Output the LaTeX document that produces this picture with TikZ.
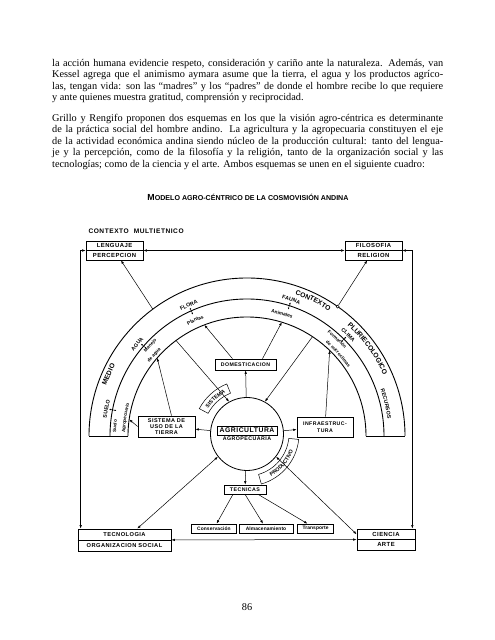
\documentclass[tikz,border=0pt]{standalone}
\usepackage{fontspec}
\setmainfont{Liberation Serif}
\newfontfamily\labfont[LetterSpace=8]{Liberation Sans}
\newfontfamily\lowfont[LetterSpace=2]{Liberation Sans}
\newfontfamily\titfont{Liberation Sans}
\usetikzlibrary{positioning, calc, decorations.text, arrows.meta}

\newcommand{\bodyfont}{\fontsize{10.3}{11}\selectfont}
\newcommand{\biglab}{\labfont\bfseries\fontsize{6.8}{7.5}\selectfont}
\newcommand{\smlab}{\labfont\bfseries\fontsize{5.3}{6.2}\selectfont}
\newcommand{\lowlab}{\lowfont\bfseries\fontsize{4.9}{5.5}\selectfont}
\newcommand{\twolab}{\lowfont\bfseries\fontsize{4.6}{5}\selectfont}

\begin{document}
\begin{tikzpicture}[x=1pt, y=1pt,
                    every edge/.style = {draw, line width=0.5pt, arrows={-Latex[length=3.5pt, width=2.4pt]}},
                    conn/.style = {line width=0.5pt},
                    twoway/.style = {arrows={Latex[length=3.5pt, width=2.4pt]-Latex[length=3.5pt, width=2.4pt]}},
                    tinytip/.style = {line width=0.45pt, arrows={Latex[length=1.8pt, width=1.6pt]-Latex[length=1.8pt, width=1.6pt]}},
                    band/.style = {line width=0.9pt},
                    box/.style = {draw, line width=0.6pt, inner sep=0.5pt, align=center},
                    dbox/.style = {draw, line width=0.7pt, inner sep=0.5pt, align=center},
                    tag/.style = {draw, line width=0.5pt},
                    arclab/.style = {decorate, decoration={text along path, text align=center, text={#1}}},
                    arcleft/.style = {decorate, decoration={text along path, text align=left, text={#1}}},
                    textline/.style = {anchor=base west, font=\bodyfont, inner sep=0pt}]
    \fill[white] (0,0) rectangle (495,640);
    \useasboundingbox (0,0) rectangle (495,640);

    % texto de la pagina
    \node[textline] (l1) at (52,573.5) {\makebox[391pt][s]{la acción humana evidencie respeto, consideración y cariño ante la naturaleza. Además, van}};
    \node[textline] (l2) at (52,562) {\makebox[391pt][s]{Kessel agrega que el animismo aymara asume que la tierra, el agua y los productos agríco-}};
    \node[textline] (l3) at (52,550.5) {\makebox[391pt][s]{las, tengan vida: son las “madres” y los “padres” de donde el hombre recibe lo que requiere}};
    \node[textline] (l4) at (52,539) {y ante quienes muestra gratitud, comprensión y reciprocidad.};
    \node[textline] (l5) at (52,518.5) {\makebox[391pt][s]{Grillo y Rengifo proponen dos esquemas en los que la visión agro-céntrica es determinante}};
    \node[textline] (l6) at (52,507) {\makebox[391pt][s]{de la práctica social del hombre andino. La agricultura y la agropecuaria constituyen el eje}};
    \node[textline] (l7) at (52,495.5) {\makebox[391pt][s]{de la actividad económica andina siendo núcleo de la producción cultural: tanto del lengua-}};
    \node[textline] (l8) at (52,484) {\makebox[391pt][s]{je y la percepción, como de la filosofía y la religión, tanto de la organización social y las}};
    \node[textline] (l9) at (52,472.5) {tecnologías; como de la ciencia y el arte. Ambos esquemas se unen en el siguiente cuadro:};

    \node[font=\titfont\bfseries\fontsize{7.1}{8}\selectfont] (titulo) at (248,443)
        {{\fontsize{8.8}{9}\selectfont M}ODELO AGRO-CÉNTRICO DE LA COSMOVISIÓN ANDINA};
    \node[font=\bodyfont] (pag) at (247,33) {86};

    % cuadro
    \node[font=\labfont\bfseries\fontsize{6.6}{7}\selectfont, anchor=west] (multi) at (85,409) {CONTEXTO\hspace{5pt}MULTIETNICO};

    \node[dbox, minimum width=57pt, minimum height=19pt, font=\labfont\bfseries\fontsize{5.9}{9.5}\selectfont] (leng) at (114.5,389.5) {LENGUAJE\\PERCEPCION};
    \node[dbox, minimum width=57pt, minimum height=19pt, font=\labfont\bfseries\fontsize{5.9}{9.5}\selectfont] (filo) at (373.5,389.5) {FILOSOFIA\\RELIGION};
    \node[dbox, minimum width=93pt, minimum height=22pt, font=\labfont\bfseries\fontsize{5.7}{11}\selectfont] (tecno) at (124.5,100) {TECNOLOGIA\\ORGANIZACION SOCIAL};
    \node[dbox, minimum width=58pt, minimum height=21pt, font=\labfont\bfseries\fontsize{5.9}{10.5}\selectfont] (cien) at (386,100.5) {CIENCIA\\ARTE};
    \draw[line width=0.6pt] (leng.west) -- (leng.east);
    \draw[line width=0.6pt] (filo.west) -- (filo.east);
    \draw[line width=0.6pt] (tecno.west) -- (tecno.east);
    \draw[line width=0.6pt] (cien.west) -- (cien.east);

    \coordinate (c) at (247,204);
    \draw[band] (c) ++(180:158) arc (180:0:158);
    \draw[band] (c) ++(180:137) arc (180:0:137);
    \draw[band] (c) ++(180:119) arc (180:0:119);
    \draw[band] ($(c)+(-158,0)$) -- ($(c)+(-119,0)$);
    \draw[band] ($(c)+(119,0)$) -- ($(c)+(158,0)$);

    \path[arclab={|\biglab|MEDIO}] ($(c)+(166:149.5)$) arc (166:146:149.5);
    \path[arclab={|\biglab|CONTEXTO}] ($(c)+(78:149.5)$) arc (78:50:149.5);
    \path[arclab={|\biglab|PLURIECOLOGICO}] ($(c)+(56:149.5)$) arc (56:16:149.5);
    \path[arclab={|\smlab|SUELO}] ($(c)+(180:141.5)$) arc (180:158:141.5);
    \path[arclab={|\smlab|AGUA}] ($(c)+(151:141.5)$) arc (151:129:141.5);
    \path[arclab={|\smlab|FLORA}] ($(c)+(125:141.5)$) arc (125:103:141.5);
    \path[arclab={|\smlab|FAUNA}] ($(c)+(83:141.5)$) arc (83:61:141.5);
    \path[arclab={|\smlab|CLIMA}] ($(c)+(56:141.5)$) arc (56:34:141.5);
    \path[arclab={|\smlab|RECURSOS}] ($(c)+(28:141.5)$) arc (28:-2:141.5);

    \path[arclab={|\lowlab|Plantas}] ($(c)+(127:125.5)$) arc (127:101:125.5);
    \path[arclab={|\lowlab|Animales}] ($(c)+(88:125.5)$) arc (88:60:125.5);
    \path[arclab={|\twolab|Manejo}] ($(c)+(147:131)$) arc (147:127:131);
    \path[arclab={|\twolab|de agua}] ($(c)+(151:122)$) arc (151:127:122);
    \path[arcleft={|\twolab|Suelo}] ($(c)+(178.5:131)$) arc (178.5:150:131);
    \path[arcleft={|\twolab|Agropecuario}] ($(c)+(178.5:122)$) arc (178.5:140:122);
    \path[arclab={|\twolab|Formación}] ($(c)+(61:131)$) arc (61:33:131);
    \path[arclab={|\twolab|de microclimas}] ($(c)+(59:122)$) arc (59:25:122);

    \foreach \a in {169,139,114,72,45} {
        \draw[tinytip] ($(c)+(\a:133)$) -- ($(c)+(\a:140.5)$);
    }

    % nucleo
    \node[circle, draw, line width=0.8pt, minimum size=73pt, inner sep=0pt] (nucleo) at (247,206) {};
    \node[draw, line width=0.8pt, inner sep=1pt, minimum width=60pt, minimum height=9pt,
          font=\labfont\bfseries\fontsize{6.8}{7.5}\selectfont] (agri) at (247,209.5) {AGRICULTURA};
    \node[inner sep=0.5pt, font=\smlab] (agro) [below=0.6pt of agri] {AGROPECUARIA};

    \draw[tag] ($(nucleo)+(112:44)$) arc (112:152:44) -- ($(nucleo)+(152:54)$) arc (152:112:54) -- cycle;
    \path[arclab={|\smlab|SISTEMA}] ($(nucleo)+(152:46.5)$) arc (152:112:46.5);
    \draw[tag] ($(nucleo)+(-74:42)$) arc (-74:-6:42) -- ($(nucleo)+(-6:52)$) arc (-6:-74:52) -- cycle;
    \path[arclab={|\smlab|PRODUCTIVO}] ($(nucleo)+(-74:49)$) arc (-74:-6:49);

    \node[box, minimum width=61pt, minimum height=11pt, font=\labfont\bfseries\fontsize{5.2}{6}\selectfont] (domest) at (245.5,275.5) {DOMESTICACION};
    \node[box, minimum width=57pt, minimum height=21pt, font=\labfont\bfseries\fontsize{5.5}{6.3}\selectfont] (sist) at (166.5,213.5) {SISTEMA DE\\USO DE LA\\TIERRA};
    \node[box, minimum width=56pt, minimum height=20pt, font=\labfont\bfseries\fontsize{5.2}{7}\selectfont] (infra) at (325,213) {INFRAESTRUC-\\TURA};
    \node[box, minimum width=42pt, minimum height=9pt, font=\labfont\bfseries\fontsize{5.3}{6}\selectfont] (tec) at (245,150.5) {TECNICAS};
    \node[box, minimum width=54pt, minimum height=9pt, font=\lowlab] (alm) at (266,111.5) {Almacenamiento};
    \node[box, minimum width=45pt, minimum height=9pt, font=\lowlab] (cons) [left=2pt of alm] {Conservación};
    \node[box, minimum width=36pt, minimum height=9pt, font=\lowlab] (tra) [right=4pt of alm] {Transporte};

    % puntos en los arcos
    \coordinate (pl) at ($(c)+(111:119)$);
    \coordinate (an) at ($(c)+(73:119)$);
    \coordinate (mj) at ($(c)+(139:119)$);
    \coordinate (sa) at ($(c)+(172:119)$);
    \coordinate (mc) at ($(c)+(46:119)$);
    \coordinate (si) at ($(c)+(126.6:119)$);
    \coordinate (pr) at ($(c)+(56.6:119)$);
    \coordinate (me) at ($(c)+(126.6:158)$);
    \node[circle, draw, fill=white, line width=0.5pt, inner sep=0pt, minimum size=3pt] (ring) at ($(c)+(55:158)$) {};

    \draw ($(domest.north)+(-13,0)$) edge (pl);
    \draw ($(domest.north)+(17,0)$)  edge (an);
    \draw ($(sist.north)+(5,0)$)     edge (mj);
    \draw (sist.west)  edge (sa);
    \draw (infra)      edge (mc);
    \draw (si)         edge (nucleo.119);
    \draw (pr)         edge (nucleo.61.6);
    \draw (nucleo)     edge (domest);
    \draw (nucleo)     edge (sist);
    \draw (nucleo)     edge (infra);
    \draw (nucleo)     edge (tec);
    \draw (me)         edge (leng);
    \draw (ring)       edge (filo);
    \draw (leng)       edge[twoway] (filo);
    \draw (tecno)      edge[twoway] (cien);
    \draw (nucleo.218) edge[twoway] (tecno);
    \draw (nucleo.-38) edge[twoway] (cien.170);
    \draw[conn, twoway] (leng.west) -| ($(tecno.north west)+(3,0)$);
    \draw[conn, twoway] (filo.east) -| ($(cien.north east)+(-3,0)$);
    \draw ($(tec.south)+(-12,0)$) edge (cons);
    \draw (tec.south)             edge (alm);
    \draw ($(tec.south)+(13,0)$)  edge (tra);
\end{tikzpicture}
\end{document}
